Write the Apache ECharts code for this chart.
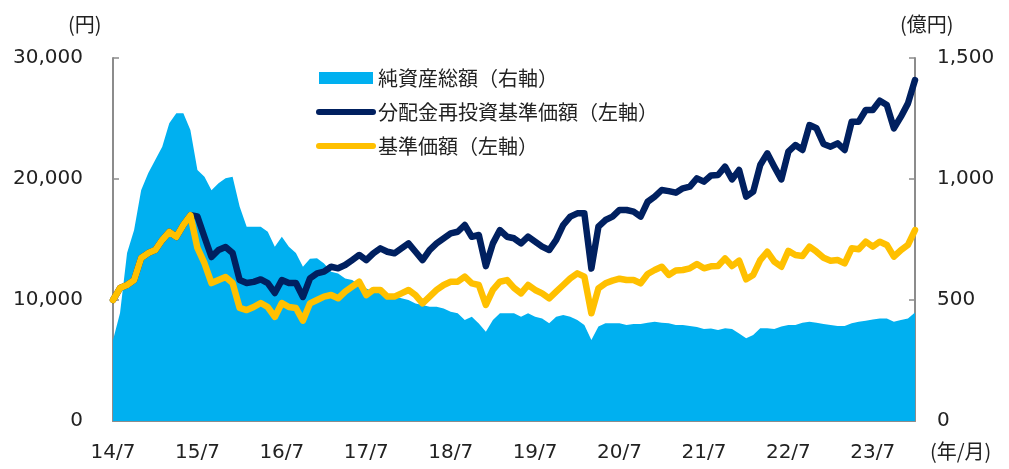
<!DOCTYPE html>
<html>
<head>
<meta charset="utf-8">
<script src="https://cdn.jsdelivr.net/npm/echarts@6/dist/echarts.min.js"></script>
<style>
  html, body { margin: 0; padding: 0; background: #fff; }
  #chart { width: 1009px; height: 469px; }
</style>
</head>
<body>
<div id="chart"></div>
<script>
// 月次（2014/7 〜 2024/1）
const months = []
for (let y = 2014, m = 7; months.length < 115; m++) {
  if (m > 12) { m = 1; y++ }
  months.push(y + '/' + m)
}

// 基準価額（円）
const nav = [
  10000, 10990, 11240, 11650, 13470, 13880, 14130, 14960, 15620, 15210, 16200, 17000,
  14300, 13040, 11400, 11650, 11900, 11400, 9340, 9170, 9420, 9750, 9420, 8600,
  9750, 9420, 9340, 8300, 9720, 10000, 10280, 10410, 10140, 10690, 11100, 11510,
  10410, 10830, 10830, 10280, 10280, 10550, 10830, 10410, 9720, 10280, 10830, 11240,
  11510, 11510, 11930, 11380, 11240, 9590, 10830, 11510, 11650, 11000, 10550, 11240,
  10830, 10550, 10140, 10690, 11240, 11790, 12200, 11930, 8900, 10960, 11380, 11600,
  11760, 11650, 11650, 11380, 12150, 12480, 12750, 12070, 12430, 12480, 12620, 12970,
  12620, 12780, 12810, 13440, 12810, 13250, 11710, 12070, 13300, 13990, 13170, 12750,
  14060, 13720, 13640, 14410, 13990, 13500, 13250, 13300, 13030, 14270, 14200, 14820,
  14410, 14820, 14550, 13580, 14130, 14550, 15780
]

// 分配金再投資基準価額（円）
const reinvestNav = [
  10000, 10990, 11240, 11650, 13470, 13880, 14130, 14960, 15620, 15210, 16200, 17000,
  16900, 15210, 13550, 14130, 14380, 13880, 11650, 11400, 11500, 11700, 11400, 10580,
  11650, 11400, 11400, 10250, 11790, 12200, 12340, 12750, 12620, 12890, 13300, 13720,
  13300, 13860, 14270, 13990, 13860, 14270, 14680, 13990, 13300, 14130, 14680, 15100,
  15510, 15640, 16200, 15230, 15370, 12800, 14680, 15780, 15230, 15100, 14680, 15230,
  14820, 14410, 14130, 14960, 16200, 16890, 17160, 17160, 12600, 16060, 16610, 16890,
  17440, 17440, 17300, 16890, 18120, 18540, 19090, 19000, 18870, 19230, 19370, 20050,
  19780, 20290, 20330, 21020, 19970, 20740, 18540, 18950, 21160, 22120, 21020, 19970,
  22260, 22810, 22400, 24460, 24190, 22890, 22670, 22950, 22400, 24740, 24740, 25700,
  25700, 26470, 26110, 24190, 25150, 26250, 28180
]

// 純資産総額（億円）
const netAssets = [
  335, 446, 694, 789, 954, 1024, 1078, 1133, 1230, 1272, 1272, 1202,
  1037, 1009, 954, 982, 1003, 1009, 886, 803, 803, 803, 782, 720,
  761, 720, 694, 637, 670, 673, 651, 617, 610, 589, 583, 562,
  548, 535, 527, 514, 514, 507, 500, 486, 479, 472, 472, 465,
  451, 445, 417, 431, 403, 369, 417, 445, 445, 445, 431, 445,
  431, 424, 404, 431, 438, 431, 417, 397, 335, 390, 404, 404,
  404, 397, 401, 401, 406, 410, 406, 404, 397, 397, 393, 388,
  380, 382, 376, 383, 380, 362, 342, 355, 383, 383, 380, 390,
  397, 397, 406, 410, 406, 401, 397, 393, 393, 404, 410, 414,
  419, 424, 424, 410, 417, 424, 448
]

const AXIS_GRAY = '#8c8c8c'
const NUM_FONT = "'DejaVu Sans', 'Noto Sans CJK JP', sans-serif"
const JP_FONT = "'Noto Sans CJK JP', 'DejaVu Sans', sans-serif"

const chart = echarts.init(document.getElementById('chart'), null, { renderer: 'canvas' })

const yearTick = (idx) => idx % 12 === 0

chart.setOption({
  animation: false,
  backgroundColor: '#fff',
  grid: { left: 113, right: 94, top: 58, bottom: 48, containLabel: false },
  legend: {
    orient: 'vertical',
    left: 316,
    top: 68,
    padding: 0,
    itemWidth: 54,
    itemHeight: 12,
    itemGap: 14,
    textStyle: { fontFamily: JP_FONT, fontSize: 20, color: '#222' },
    data: [
      { name: '純資産総額（右軸）', icon: 'rect' },
      {
        name: '分配金再投資基準価額（左軸）',
        itemStyle: { opacity: 0 },
        lineStyle: { width: 6, color: '#002060', cap: 'round' }
      },
      {
        name: '基準価額（左軸）',
        itemStyle: { opacity: 0 },
        lineStyle: { width: 6, color: '#FFC000', cap: 'round' }
      }
    ]
  },
  xAxis: {
    type: 'category',
    data: months,
    boundaryGap: false,
    axisLine: { lineStyle: { color: AXIS_GRAY, width: 2 } },
    axisTick: { inside: true, length: 6, interval: yearTick, lineStyle: { color: AXIS_GRAY, width: 1.5 } },
    axisLabel: {
      interval: yearTick,
      margin: 22,
      color: '#222',
      fontFamily: NUM_FONT,
      fontSize: 20,
      formatter: (v) => {
        const [y, m] = v.split('/')
        return y.slice(2) + '/' + m
      }
    },
    splitLine: { show: false }
  },
  yAxis: [
    {
      type: 'value',
      min: 0,
      max: 30000,
      interval: 10000,
      axisLine: { show: true, lineStyle: { color: AXIS_GRAY, width: 2 } },
      axisTick: { show: true, inside: true, length: 6, lineStyle: { color: AXIS_GRAY, width: 1.5 } },
      axisLabel: {
        margin: 30,
        color: '#222',
        fontFamily: NUM_FONT,
        fontSize: 20,
        formatter: (v) => v.toLocaleString('en-US')
      },
      splitLine: { show: false }
    },
    {
      type: 'value',
      min: 0,
      max: 1500,
      interval: 500,
      position: 'right',
      axisLine: { show: true, lineStyle: { color: AXIS_GRAY, width: 2 } },
      axisTick: { show: true, inside: true, length: 6, lineStyle: { color: AXIS_GRAY, width: 1.5 } },
      axisLabel: {
        margin: 22,
        color: '#222',
        fontFamily: NUM_FONT,
        fontSize: 20,
        formatter: (v) => v.toLocaleString('en-US')
      },
      splitLine: { show: false }
    }
  ],
  graphic: [
    { type: 'text', left: 68, top: 14, style: { text: '(円)', fontFamily: JP_FONT, fontSize: 20, fill: '#222' } },
    { type: 'text', left: 900, top: 14, style: { text: '(億円)', fontFamily: JP_FONT, fontSize: 20, fill: '#222' } },
    { type: 'text', left: 930, top: 441, style: { text: '(年/月)', fontFamily: JP_FONT, fontSize: 20, fill: '#222' } }
  ],
  series: [
    {
      name: '純資産総額（右軸）',
      type: 'line',
      yAxisIndex: 1,
      data: netAssets,
      symbol: 'none',
      color: '#00B0F0',
      itemStyle: { color: '#00B0F0' },
      lineStyle: { width: 0 },
      areaStyle: { color: '#00B0F0', opacity: 1 }
    },
    {
      name: '分配金再投資基準価額（左軸）',
      type: 'line',
      yAxisIndex: 0,
      data: reinvestNav,
      symbol: 'none',
      color: '#002060',
      lineStyle: { width: 6.5, color: '#002060', cap: 'round', join: 'round' }
    },
    {
      name: '基準価額（左軸）',
      type: 'line',
      yAxisIndex: 0,
      data: nav,
      symbol: 'none',
      color: '#FFC000',
      lineStyle: { width: 6.5, color: '#FFC000', cap: 'round', join: 'round' }
    }
  ]
})

window.addEventListener('resize', () => chart.resize())
</script>
</body>
</html>
